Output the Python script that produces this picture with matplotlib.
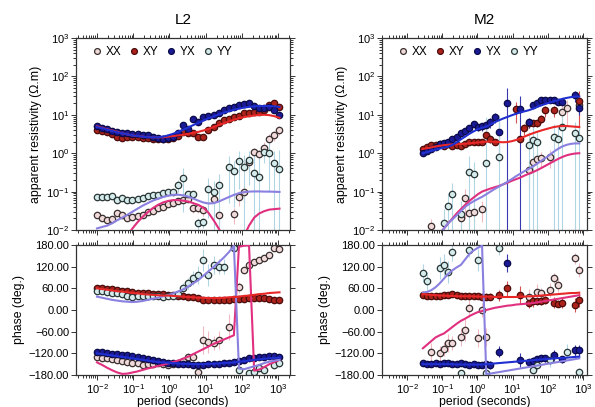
import numpy as np
import matplotlib
matplotlib.use('Agg')
import matplotlib.pyplot as plt
from matplotlib.lines import Line2D
from matplotlib.ticker import LogLocator, FixedLocator, FuncFormatter, NullFormatter, LogFormatterMathtext

nan = np.nan
plt.rcParams['font.family'] = ['Liberation Sans', 'DejaVu Sans']
plt.rcParams['mathtext.fontset'] = 'custom'
plt.rcParams['mathtext.rm'] = 'Liberation Sans'
plt.rcParams['mathtext.it'] = 'Liberation Sans:italic'
plt.rcParams['mathtext.bf'] = 'Liberation Sans:bold'

components = ['XX', 'XY', 'YX', 'YY']
titles = ['L2', 'M2']

# ---------------- L2 ----------------
L2_period = [0.0100, 0.0138, 0.0191, 0.0263, 0.0363, 0.0501, 0.0692, 0.0955, 0.132, 0.182,
             0.251, 0.347, 0.479, 0.661, 0.912, 1.26, 1.74, 2.40, 3.31, 4.57,
             6.31, 8.71, 12.0, 16.6, 22.9, 31.6, 43.7, 60.3, 83.2, 115,
             158, 219, 302, 417, 575, 794, 1096]

L2_xy_rho = [4.0, 3.8, 3.5, 3.2, 2.6, 2.5, 2.7, 2.6, 2.6, 2.5,
             2.5, 2.4, 2.3, 2.3, 2.4, 2.5, 2.8, 3.5, 3.4, 3.3,
             2.7, 2.6, 4.0, 4.8, 6.0, 7.3, 8.0, 8.7, 9.5, 11,
             11, 11.5, 12, 13, 18, 20, 16]
L2_yx_rho = [5.0, 4.6, 4.2, 3.8, 3.6, 3.4, 3.3, 3.2, 3.1, 3.0,
             2.9, 2.7, 2.5, 2.4, 2.5, 2.7, 3.3, 5.3, 4.2, 7.6,
             6.5, 8.7, 9.5, 10, 11, 13, 15, 16, 18, 19,
             20, 17, 15, 15, 16, 13, 10]
L2_xx_rho = [0.024, 0.021, 0.018, 0.019, 0.027, 0.024, 0.020, 0.022, 0.023, 0.025,
             0.029, 0.032, 0.037, 0.040, 0.048, 0.052, 0.058, 0.062, 0.064, 0.037,
             0.037, 0.033, nan, 0.063, 0.024, nan, nan, 0.026, 0.072, 0.10,
             0.60, 1.06, 0.94, 1.40, 2.4, 2.9, 4.0]
L2_yy_rho = [0.072, 0.072, 0.073, 0.075, 0.060, 0.068, 0.062, 0.062, 0.064, 0.070,
             0.075, 0.080, 0.080, 0.090, 0.10, 0.10, 0.15, 0.22, 0.085, 0.085,
             0.015, 0.016, 0.12, 0.10, 0.15, nan, 0.45, 0.34, 0.62, 0.43,
             0.65, 0.30, 0.24, 1.06, 1.0, 0.55, 0.38]
L2_xx_rho_err = [0.002, 0.002, 0.002, 0.002, 0.002, 0.002, 0.002, 0.002, 0.002, 0.002,
                 0.002, 0.002, 0.002, 0.002, 0.002, 0.005, 0.005, 0.005, 0.005, 0.01,
                 0.01, 0.01, 0, 0.02, 0.01, 0, 0, 0.012, 0.03, 0.05,
                 0.3, 0.3, 0.3, 0.5, 0.8, 0.8, 1.0]
L2_yy_rho_err = [0.005, 0.005, 0.005, 0.005, 0.005, 0.005, 0.005, 0.005, 0.005, 0.005,
                 0.005, 0.005, 0.005, 0.005, 0.01, 0.02, 0.05, 0.19, 0.02, 0.02,
                 0.005, 0.005, 0.1, 0.09, 0.14, 0, 0.4, 0.3, 0.5, 0.45,
                 0.5, 0.6, 0.5, 0.5, 0.9, 0.6, 0.8]

L2_xy_phase = [62, 60, 58, 57, 55, 54, 52, 50, 48, 47,
               46, 45, 44, 43, 42, 41, 40, 38, 37, 35,
               32, 28, 27, 28, 28, 29, 29, 30, 30, 31,
               32, 33, 34, 33, 31, 29, 28]
L2_yx_phase = [-115, -117, -119, -121, -123, -124, -125, -127, -130, -133,
               -136, -138, -140, -143, -146, -148, -150, -149, -150, -151,
               -152, -151, -150, -150, -149, -148, -147, -143, -140, -138,
               -134, -132, -130, -129, -127, -128, -130]
L2_xx_phase = [-130, -132, -134, -136, -138, -141, -143, -146, -148, -152,
               -150, -150, -148, -150, -152, -150, -148, -140, -130, -130,
               -171, -83, -88, -92, -83, nan, -47, 178, 63, 111,
               125, 133, 138, 144, 152, 171, 169]
L2_yy_phase = [54, 52, 50, 48, 47, 45, 40, 37, 38, 39,
               40, 38, 38, 37, 38, 40, 45, 60, 74, 88,
               97, 138, 97, 125, 120, 120, nan, 172, -166, nan,
               -175, -172, -161, -166, nan, -152, -148]
L2_xx_phase_err = [2, 2, 2, 2, 2, 2, 2, 2, 2, 2,
                   2, 2, 2, 2, 2, 2, 2, 5, 10, 10,
                   15, 40, 30, 20, 25, 0, 35, 20, 15, 8,
                   8, 8, 8, 8, 8, 8, 8]
L2_yy_phase_err = [3, 3, 3, 3, 3, 3, 3, 3, 3, 3,
                   3, 3, 3, 3, 3, 3, 8, 15, 15, 20,
                   25, 30, 30, 25, 20, 20, 0, 10, 10, 0,
                   10, 10, 10, 10, 0, 10, 10]

L2_xy_rho_model = [5.0, 4.6, 4.2, 3.9, 3.6, 3.3, 3.1, 2.9, 2.8, 2.7,
                   2.6, 2.6, 2.6, 2.6, 2.7, 2.8, 2.9, 3.0, 3.2, 3.4,
                   3.6, 3.9, 4.3, 4.8, 5.4, 6.0, 6.7, 7.4, 8.1, 8.7,
                   9.2, 9.6, 9.9, 10.0, 9.8, 9.2, 8.3]
L2_yx_rho_model = [4.8, 4.5, 4.1, 3.8, 3.5, 3.3, 3.1, 2.9, 2.8, 2.7,
                   2.6, 2.6, 2.6, 2.7, 2.9, 3.2, 3.6, 4.1, 4.7, 5.4,
                   6.2, 7.1, 8.1, 9.1, 10.2, 11.3, 12.4, 13.5, 14.5, 15.4,
                   16.1, 16.6, 16.9, 17.0, 16.9, 16.6, 16.0]
L2_xx_rho_model = [0.0012, 0.0016, 0.002, 0.0028, 0.0038, 0.005, 0.0072, 0.011, 0.016, 0.022,
                   0.029, 0.037, 0.045, 0.052, 0.057, 0.060, 0.060, 0.058, 0.055, 0.050,
                   0.045, 0.038, 0.028, 0.018, 0.011, 0.006, 0.002, 0.001, 0.003, 0.007,
                   0.013, 0.021, 0.027, 0.031, 0.034, 0.035, 0.036]
L2_yy_rho_model = [0.011, 0.012, 0.013, 0.015, 0.018, 0.021, 0.025, 0.030, 0.036, 0.043,
                   0.050, 0.058, 0.065, 0.072, 0.078, 0.082, 0.083, 0.080, 0.074, 0.066,
                   0.058, 0.052, 0.049, 0.050, 0.055, 0.063, 0.072, 0.082, 0.091, 0.097,
                   0.100, 0.101, 0.101, 0.100, 0.100, 0.099, 0.098]
L2_xy_phase_model = [60, 58, 56, 54, 52, 51, 49, 47, 46, 44,
                     43, 42, 41, 40, 40, 39, 38, 37, 36, 35,
                     34, 34, 33, 33, 33, 34, 35, 36, 37, 39,
                     40, 42, 44, 45, 47, 48, 49]
L2_yx_phase_model = [-120, -122, -124, -126, -128, -130, -132, -134, -136, -138,
                     -140, -142, -144, -145, -146, -147, -148, -149, -149, -150,
                     -150, -150, -149, -149, -148, -147, -146, -145, -143, -142,
                     -140, -138, -137, -135, -134, -133, -132]
L2_xx_phase_model = [-145, -152, -160, -167, -173, -177, -176, -173, -170, -166,
                     -162, -159, -155, -152, -148, -144, -140, -135, -129, -122,
                     -115, -108, -101, -94, -88, -82, -76, -70, 175, 178,
                     179, -168, -165, -158, -150, -144, -138]
L2_yy_phase_model = [37, 34, 31, 28, 26, 24, 23, 22, 23, 25,
                     28, 31, 34, 38, 41, 46, 51, 57, 65, 74,
                     83, 95, 107, 119, 132, 145, 160, 178, -162, -164,
                     -160, -156, -152, -147, -143, -140, -138]

# ---------------- M2 ----------------
M2_period = [0.0282, 0.0372, 0.0490, 0.0646, 0.0851, 0.112, 0.148, 0.195, 0.257, 0.339,
             0.447, 0.589, 0.776, 1.02, 1.35, 1.78, 2.34, 3.09, 4.07, 5.37,
             7.08, 9.33, 12.3, 16.2, 21.4, 28.2, 37.2, 49.0, 64.6, 85.1,
             112, 148, 195, 257, 339, 447, 589, 776]

M2_xy_rho = [1.3, 1.45, 1.6, 1.65, 1.7, 1.5, 1.7, 1.5, 1.6, 1.5,
             1.7, 1.9, 1.9, 1.9, 2.0, 2.9, 2.4, 1.9, nan, nan,
             nan, nan, 14, 2.4, 4.4, 6.0, 6.0, 6.0, 8.0, 13,
             nan, 13, nan, nan, nan, nan, nan, 23]
M2_yx_rho = [1.0, 1.15, 1.25, 1.45, 1.7, 1.8, 2.0, 2.3, 2.7, 3.3,
             3.8, 4.4, 5.7, 4.9, 5.0, 5.4, 6.5, 8.8, 3.6, nan,
             20, nan, nan, 14, nan, 6.5, 18, 20, 24, 25,
             25, 24, 22, 22, nan, nan, 32, 15]
M2_xx_rho = [nan, nan, 0.013, nan, nan, nan, nan, nan, nan, 0.020,
             0.070, 0.027, 0.030, nan, 0.036, nan, nan, nan, nan, nan,
             nan, nan, nan, nan, nan, 0.36, 0.60, 0.70, 0.75, nan,
             0.80, nan, nan, 12, 15, nan, nan, 18]
M2_yy_rho = [nan, nan, nan, nan, nan, 0.015, 0.042, 0.085, nan, 0.026,
             nan, 0.33, 0.28, nan, nan, 0.55, nan, nan, 0.80, nan,
             nan, nan, nan, nan, nan, 1.6, 2.2, 1.9, nan, nan,
             nan, 2.7, 2.3, 4.8, nan, nan, 3.3, 2.5]
M2_xy_rho_err = [0.05, 0.05, 0.05, 0.05, 0.05, 0.05, 0.05, 0.05, 0.05, 0.05,
                 0.1, 0.1, 0.1, 0.1, 0.2, 0.8, 0.6, 0.3, 0, 0,
                 0, 0, 8, 0.6, 1.5, 1.5, 1.2, 1.2, 2, 4,
                 0, 4, 0, 0, 0, 0, 0, 18]
M2_yx_rho_err = [0.05, 0.05, 0.05, 0.08, 0.1, 0.1, 0.15, 0.2, 0.3, 0.4,
                 0.6, 0.8, 1.0, 1.0, 1.2, 1.5, 2.0, 2.5, 3.0, 0,
                 30, 0, 0, 16, 0, 2, 3, 3, 3, 3,
                 3, 3, 4, 4, 0, 0, 10, 5]
M2_xx_rho_err = [0, 0, 0.006, 0, 0, 0, 0, 0, 0, 0.012,
                 0.05, 0.015, 0.015, 0, 0.02, 0, 0, 0, 0, 0,
                 0, 0, 0, 0, 0, 0.25, 0.3, 0.3, 0.3, 0,
                 0.4, 0, 0, 8, 10, 0, 0, 15]
M2_yy_rho_err = [0, 0, 0, 0, 0, 0.02, 0.05, 0.08, 0, 0.03,
                 0, 0.5, 0.3, 0, 0, 8, 0, 0, 9, 0,
                 0, 0, 0, 0, 0, 2, 2.5, 2, 0, 0,
                 0, 3, 2.5, 5, 0, 0, 3.3, 2.6]

M2_xy_phase = [42, 40, 39, 39, 40, 41, 42, 43, 41, 40,
               40, 40, 39, 38, 37, 37, 37, nan, 41, nan,
               60, nan, nan, 41, nan, 20, 24, 24, 25, 28,
               nan, 20, 18, 20, nan, nan, 14, 28]
M2_yx_phase = [-148, -149, -150, -148, -149, -147, -148, -149, -150, -148,
               -149, -151, -150, -152, -152, -150, -152, nan, -115, nan,
               131, nan, nan, -138, nan, -145, -140, -136, -134, -134,
               nan, -125, nan, -136, nan, nan, -111, -111]
M2_xx_phase = [nan, nan, -115, nan, -120, -108, -92, -92, nan, -74,
               -55, 5, nan, -78, 0, -74, nan, nan, nan, nan,
               nan, nan, nan, nan, nan, 37, nan, 51, 46, nan,
               55, 88, 69, nan, nan, nan, 143, 111]
M2_yy_phase = [103, 81, nan, nan, 116, 125, 106, 161, nan, -175,
               nan, 166, nan, 138, nan, -175, nan, nan, 172, nan,
               nan, nan, nan, nan, nan, nan, -166, -152, nan, nan,
               -138, nan, nan, nan, -115, nan, nan, -171]
M2_xy_phase_err = [4, 4, 4, 4, 4, 4, 4, 4, 4, 4,
                   4, 4, 4, 4, 4, 10, 10, 0, 15, 0,
                   20, 0, 0, 25, 0, 15, 15, 10, 10, 10,
                   0, 15, 10, 15, 0, 0, 20, 20]
M2_yx_phase_err = [5, 5, 5, 5, 5, 5, 5, 5, 5, 5,
                   5, 5, 5, 5, 5, 10, 10, 0, 15, 0,
                   25, 0, 0, 20, 0, 10, 10, 10, 10, 10,
                   0, 15, 0, 10, 0, 0, 15, 15]
M2_xx_phase_err = [0, 0, 25, 0, 20, 20, 25, 20, 0, 25,
                   30, 25, 0, 25, 20, 25, 0, 0, 0, 0,
                   0, 0, 0, 0, 0, 20, 0, 20, 15, 0,
                   20, 15, 20, 0, 0, 0, 15, 20]
M2_yy_phase_err = [25, 25, 0, 0, 30, 30, 30, 25, 0, 10,
                   0, 20, 0, 30, 0, 10, 0, 0, 20, 0,
                   0, 0, 0, 0, 0, 0, 15, 15, 0, 0,
                   20, 0, 0, 0, 20, 0, 0, 10]

M2_xy_rho_model = [1.3, 1.35, 1.42, 1.5, 1.56, 1.62, 1.66, 1.7, 1.72, 1.74,
                   1.76, 1.8, 1.85, 1.9, 1.95, 2.0, 2.0, 1.98, 1.95, 1.93,
                   1.95, 2.05, 2.2, 2.4, 2.7, 3.0, 3.3, 3.6, 3.9, 4.2,
                   4.5, 4.8, 5.0, 5.1, 5.1, 5.0, 4.9, 4.8]
M2_yx_rho_model = [1.0, 1.07, 1.15, 1.23, 1.32, 1.40, 1.48, 1.65, 1.9, 2.3,
                   2.7, 3.2, 3.7, 4.2, 4.6, 4.9, 5.6, 6.4, 7.2, 8.0,
                   8.8, 9.7, 10.6, 11.5, 12.3, 13.1, 14.3, 16.0, 17.6, 19.2,
                   20.8, 22.5, 24.2, 26.0, 27.5, 28.8, 29.6, 30.0]
M2_xx_rho_model = [0.003, 0.004, 0.005, 0.006, 0.008, 0.011, 0.015, 0.020, 0.027, 0.035,
                   0.045, 0.057, 0.070, 0.085, 0.10, 0.11, 0.12, 0.13, 0.14, 0.155,
                   0.17, 0.19, 0.21, 0.23, 0.26, 0.29, 0.32, 0.36, 0.41, 0.47,
                   0.54, 0.62, 0.71, 0.80, 0.88, 0.94, 0.98, 1.0]
M2_yy_rho_model = [0.002, 0.003, 0.004, 0.006, 0.008, 0.011, 0.015, 0.019, 0.024, 0.031,
                   0.040, 0.048, 0.056, 0.064, 0.073, 0.085, 0.10, 0.117, 0.135, 0.155,
                   0.18, 0.21, 0.25, 0.29, 0.34, 0.39, 0.45, 0.53, 0.63, 0.75,
                   0.90, 1.10, 1.30, 1.50, 1.65, 1.75, 1.80, 1.80]
M2_xy_phase_model = [44, 43, 42, 41, 40, 40, 39, 39, 38, 38,
                     38, 38, 38, 37, 37, 37, 37, 36, 36, 36,
                     36, 36, 36, 37, 37, 38, 38, 39, 40, 41,
                     42, 43, 44, 45, 46, 47, 47, 48]
M2_yx_phase_model = [-150, -150, -150, -150, -150, -150, -150, -150, -151, -151,
                     -151, -151, -151, -151, -151, -150, -149, -148, -147, -146,
                     -145, -144, -143, -142, -141, -140, -139, -138, -137, -136,
                     -135, -134, -133, -133, -132, -131, -130, -129]
M2_xx_phase_model = [-106, -96, -86, -76, -70, -65, -56, -47, -38, -30,
                     -24, -17, -11, -6, -3, 0, 3, 6, 8, 10,
                     12, 13, 15, 16, 17, 18, 19, 21, 23, 25,
                     27, 29, 31, 33, 35, 37, 39, 41]
M2_yy_phase_model = [48, 50, 55, 63, 74, 87, 100, 110, 118, 125,
                     140, 155, 165, 172, 178, -178, -176, -174, -172, -170,
                     -168, -166, -164, -162, -160, -158, -156, -154, -152, -150,
                     -148, -146, -144, -142, -140, -138, -136, -134]

# ---------------- styles ----------------
mk_face = {'XX': '#f0dada', 'XY': '#ad221a', 'YX': '#1a1a96', 'YY': '#d6ecec'}
mk_edge = {'XX': '#3a3030', 'XY': '#4a0c0c', 'YX': '#0a0a4a', 'YY': '#2a3636'}
err_col = {'XX': '#f2b8c4', 'XY': '#d85050', 'YX': '#3838b0', 'YY': '#b0d6e4'}
line_col = {'XX': '#e0307f', 'XY': '#e82828', 'YX': '#1f2fd0', 'YY': '#8a80e0'}

panels = [
    dict(period=L2_period, xlim=(10**-2.58, 10**3.33),
         rho={'XX': L2_xx_rho, 'XY': L2_xy_rho, 'YX': L2_yx_rho, 'YY': L2_yy_rho},
         rho_err={'XX': L2_xx_rho_err, 'YY': L2_yy_rho_err},
         phase={'XX': L2_xx_phase, 'XY': L2_xy_phase, 'YX': L2_yx_phase, 'YY': L2_yy_phase},
         phase_err={'XX': L2_xx_phase_err, 'YY': L2_yy_phase_err},
         rho_model={'XX': L2_xx_rho_model, 'XY': L2_xy_rho_model, 'YX': L2_yx_rho_model, 'YY': L2_yy_rho_model},
         phase_model={'XX': L2_xx_phase_model, 'XY': L2_xy_phase_model, 'YX': L2_yx_phase_model, 'YY': L2_yy_phase_model},
         left=76, right=290),
    dict(period=M2_period, xlim=(10**-2.71, 10**3.11),
         rho={'XX': M2_xx_rho, 'XY': M2_xy_rho, 'YX': M2_yx_rho, 'YY': M2_yy_rho},
         rho_err={'XX': M2_xx_rho_err, 'XY': M2_xy_rho_err, 'YX': M2_yx_rho_err, 'YY': M2_yy_rho_err},
         phase={'XX': M2_xx_phase, 'XY': M2_xy_phase, 'YX': M2_yx_phase, 'YY': M2_yy_phase},
         phase_err={'XX': M2_xx_phase_err, 'XY': M2_xy_phase_err, 'YX': M2_yx_phase_err, 'YY': M2_yy_phase_err},
         rho_model={'XX': M2_xx_rho_model, 'XY': M2_xy_rho_model, 'YX': M2_yx_rho_model, 'YY': M2_yy_rho_model},
         phase_model={'XX': M2_xx_phase_model, 'XY': M2_xy_phase_model, 'YX': M2_yx_phase_model, 'YY': M2_yy_phase_model},
         left=382, right=587),
]

W, H = 595, 407
fig = plt.figure(figsize=(W / 100, H / 100), dpi=100)

FS_TICK = 8
FS_LAB = 8.8
MS = 4.6


def style_axis(ax, xlim):
    ax.set_xscale('log')
    ax.set_xlim(*xlim)
    ax.xaxis.set_major_locator(LogLocator(base=10, numticks=20))
    ax.xaxis.set_minor_locator(LogLocator(base=10, subs=np.arange(2, 10), numticks=20))
    ax.xaxis.set_minor_formatter(NullFormatter())
    ax.tick_params(which='both', direction='out', top=True, right=True, labelsize=FS_TICK,
                   color='#333333', width=0.7, pad=1.5)
    ax.tick_params(which='major', length=3.5)
    ax.tick_params(which='minor', length=2)
    for s in ax.spines.values():
        s.set_color('#333333')
        s.set_linewidth(0.9)


for i, pnl in enumerate(panels):
    x0 = pnl['left'] / W
    w = (pnl['right'] - pnl['left']) / W
    ax_r = fig.add_axes([x0, 1 - 230 / H, w, 192 / H])
    ax_p = fig.add_axes([x0, 1 - 375 / H, w, 130 / H])
    T = np.array(pnl['period'])

    # resistivity
    for c in components:
        v = np.array(pnl['rho'][c], dtype=float)
        if c in pnl['rho_err']:
            e = np.array(pnl['rho_err'][c], dtype=float)
            ok = ~np.isnan(v) & (e > 0)
            lo = np.where(v - e > 0, v - e, 1e-5)
            ax_r.vlines(T[ok], lo[ok], (v + e)[ok], color=err_col[c], lw=0.8, zorder=1)
    for c in components:
        v = np.array(pnl['rho'][c], dtype=float)
        ax_r.plot(T, v, ls='none', marker='o', ms=MS, mfc=mk_face[c], mec=mk_edge[c], mew=0.9, zorder=2)
    for c in ['XX', 'YY', 'XY', 'YX']:
        ax_r.plot(T, pnl['rho_model'][c], color=line_col[c], lw=1.5, zorder=3)

    ax_r.set_yscale('log')
    ax_r.set_ylim(1e-2, 1e3)
    style_axis(ax_r, pnl['xlim'])
    ax_r.yaxis.set_major_locator(LogLocator(base=10, numticks=10))
    ax_r.yaxis.set_minor_locator(LogLocator(base=10, subs=np.arange(2, 10), numticks=10))
    ax_r.yaxis.set_major_formatter(LogFormatterMathtext())
    ax_r.yaxis.set_minor_formatter(NullFormatter())
    ax_r.tick_params(labelbottom=False)
    ax_r.set_ylabel('apparent resistivity (\u03a9.m)', fontsize=FS_LAB, labelpad=3)
    ax_r.set_title(titles[i], fontsize=11, pad=10)

    handles = [Line2D([], [], ls='none', marker='o', ms=4.2, mfc=mk_face[c], mec=mk_edge[c], mew=0.9)
               for c in components]
    ax_r.legend(handles, components, loc='upper left', ncol=4, frameon=False, fontsize=8.5,
                handlelength=0.7, handletextpad=0.35, columnspacing=0.75, borderaxespad=0.25,
                bbox_to_anchor=(0.045, 1.0))

    # phase
    for c in components:
        if c in pnl['phase_err']:
            v = np.array(pnl['phase'][c], dtype=float)
            e = np.array(pnl['phase_err'][c], dtype=float)
            ok = ~np.isnan(v) & (e > 0)
            ax_p.vlines(T[ok], (v - e)[ok], (v + e)[ok], color=err_col[c], lw=0.8, zorder=1)
    for c in components:
        v = np.array(pnl['phase'][c], dtype=float)
        ax_p.plot(T, v, ls='none', marker='o', ms=MS, mfc=mk_face[c], mec=mk_edge[c], mew=0.9,
                  zorder=2, clip_on=True)
    for c in ['XX', 'YY', 'XY', 'YX']:
        ax_p.plot(T, pnl['phase_model'][c], color=line_col[c], lw=1.5, zorder=3)

    ax_p.set_ylim(-180, 180)
    style_axis(ax_p, pnl['xlim'])
    ax_p.yaxis.set_major_locator(FixedLocator([-180, -120, -60, 0, 60, 120, 180]))
    ax_p.yaxis.set_major_formatter(FuncFormatter(lambda v, p: ('%.2f' % v).replace('-', '\u2212')))
    ax_p.xaxis.set_major_formatter(LogFormatterMathtext())
    ax_p.set_ylabel('phase (deg.)', fontsize=FS_LAB, labelpad=3)
    ax_p.set_xlabel('period (seconds)', fontsize=FS_LAB, labelpad=0)

fig.savefig('out.png', dpi=100)
